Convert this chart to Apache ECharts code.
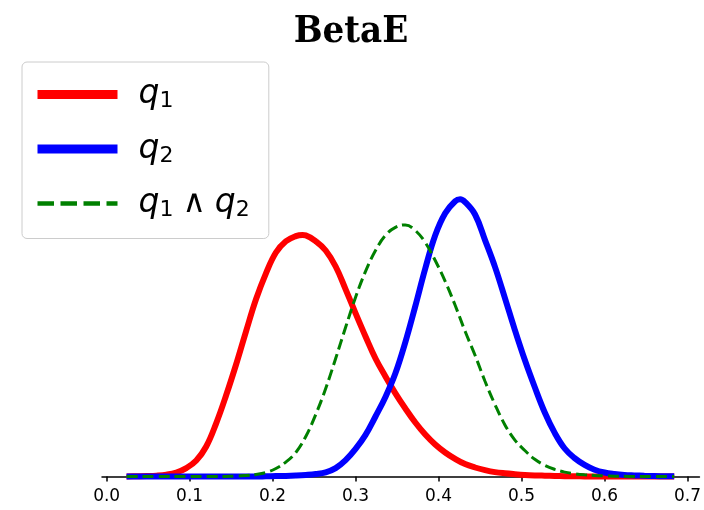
<!DOCTYPE html>
<html>
<head>
<meta charset="utf-8">
<style>
  html, body { margin: 0; padding: 0; background: #ffffff; }
  #chart { width: 704px; height: 510px; }
</style>
<script src="https://cdn.jsdelivr.net/npm/echarts@6/dist/echarts.min.js"></script>
</head>
<body>
<div id="chart"></div>
<script>
// ---- data ----
const xTickValues = [0.0, 0.1, 0.2, 0.3, 0.4, 0.5, 0.6, 0.7];

const q1X = [0.024,0.036,0.048,0.060,0.072,0.084,0.096,0.108,0.120,0.132,0.144,0.156,0.168,0.180,0.192,0.204,0.216,0.228,0.236,0.240,0.252,0.264,0.276,0.288,0.300,0.312,0.324,0.336,0.348,0.360,0.372,0.384,0.396,0.408,0.420,0.432,0.444,0.456,0.468,0.480,0.492,0.504,0.516,0.528,0.540,0.552,0.564,0.576,0.588,0.600,0.612,0.624,0.636,0.648,0.660,0.672,0.684];
const q1Y = [0,0.005,0.01,0.02,0.045,0.10,0.21,0.40,0.75,1.33,2.03,2.80,3.63,4.43,5.08,5.60,5.88,6.01,6.04,6.03,5.88,5.65,5.25,4.68,4.08,3.50,2.95,2.50,2.08,1.70,1.35,1.05,0.80,0.60,0.44,0.31,0.225,0.16,0.11,0.08,0.058,0.04,0.028,0.02,0.013,0.009,0.005,0.003,0.0015,0.001,0,0,0,0,0,0,0];

const q2X = [0.024,0.036,0.048,0.060,0.072,0.084,0.096,0.108,0.120,0.132,0.144,0.156,0.168,0.180,0.192,0.204,0.216,0.228,0.240,0.252,0.264,0.276,0.288,0.300,0.312,0.324,0.336,0.348,0.360,0.372,0.384,0.396,0.408,0.420,0.426,0.432,0.444,0.456,0.468,0.480,0.492,0.504,0.516,0.528,0.540,0.552,0.564,0.576,0.588,0.600,0.612,0.624,0.636,0.648,0.660,0.672,0.684];
const q2Y = [0,0,0,0,0,0,0,0,0,0,0,0,0,0,0.005,0.01,0.015,0.025,0.04,0.063,0.105,0.21,0.41,0.69,1.04,1.50,1.99,2.58,3.36,4.26,5.20,6.03,6.58,6.88,6.93,6.86,6.55,5.91,5.24,4.46,3.66,2.91,2.23,1.60,1.09,0.70,0.46,0.29,0.17,0.10,0.063,0.04,0.028,0.018,0.011,0.008,0.005];

const q12X = [0.024,0.036,0.048,0.060,0.072,0.084,0.096,0.108,0.120,0.132,0.144,0.156,0.168,0.180,0.192,0.204,0.216,0.228,0.240,0.252,0.264,0.276,0.288,0.300,0.312,0.324,0.336,0.348,0.360,0.372,0.384,0.396,0.408,0.420,0.432,0.444,0.456,0.468,0.480,0.492,0.504,0.516,0.528,0.540,0.552,0.564,0.576,0.588,0.600,0.612,0.624,0.636,0.648,0.660,0.672,0.684];
const q12Y = [0,0,0,0,0,0,0,0,0,0,0.0025,0.0075,0.025,0.05,0.10,0.20,0.36,0.60,1.00,1.55,2.20,2.95,3.73,4.48,5.13,5.65,6.03,6.23,6.29,6.15,5.85,5.40,4.88,4.28,3.63,3.03,2.38,1.80,1.29,0.91,0.65,0.43,0.28,0.18,0.11,0.07,0.043,0.025,0.015,0.008,0.004,0.001,0,0,0,0];

const legendLabels = {
  'q1': '{q|q}{s|1}',
  'q2': '{q|q}{s|2}',
  'q1q2': '{q|q}{s|1}{w|∧}{q|q}{s|2}'
};
const titleText = 'BetaE';

function pairs(xs, ys) { return xs.map((x, i) => [x, ys[i]]); }

const chart = echarts.init(document.getElementById('chart'), null, { renderer: 'canvas' });

const option = {
  animation: false,
  backgroundColor: '#ffffff',
  title: {
    text: titleText,
    left: 346,
    top: 8,
    textAlign: 'center',
    textStyle: {
      fontFamily: '"DejaVu Serif Condensed", "DejaVu Serif", serif',
      fontWeight: 'bold',
      fontSize: 38,
      color: '#000000'
    }
  },
  grid: { left: 102, right: 2, top: 62, bottom: 32, containLabel: false },
  legend: {
    orient: 'vertical',
    left: 22,
    top: 62,
    padding: [16, 19, 17, 11],
    itemWidth: 80,
    itemHeight: 10,
    itemGap: 20,
    backgroundColor: '#ffffff',
    borderColor: '#cccccc',
    borderWidth: 1,
    borderRadius: 5,
    selectedMode: false,
    itemStyle: { opacity: 0 },
    data: [
      { name: 'q1', itemStyle: { opacity: 0 }, lineStyle: { width: 9, color: '#ff0000' } },
      { name: 'q2', itemStyle: { opacity: 0 }, lineStyle: { width: 9, color: '#0000ff' } },
      { name: 'q1q2', itemStyle: { opacity: 0 }, lineStyle: { width: 4.5, color: '#008000', type: [16.5, 6.5] } }
    ],
    formatter: function (name) { return legendLabels[name]; },
    textStyle: {
      color: '#000000',
      fontFamily: 'DejaVu Sans',
      padding: [0, 0, 0, 16],
      rich: {
        q: { fontFamily: 'DejaVu Sans', fontStyle: 'italic', fontSize: 33, lineHeight: 36, color: '#000000' },
        s: { fontFamily: 'DejaVu Sans', fontSize: 22, lineHeight: 14, verticalAlign: 'bottom', color: '#000000' },
        w: { fontFamily: 'DejaVu Sans', fontSize: 32, lineHeight: 36, padding: [0, 9, 0, 9], color: '#000000' }
      }
    }
  },
  xAxis: {
    type: 'value',
    min: -0.0056,
    max: 0.7144,
    axisLine: { show: true, lineStyle: { color: '#000000', width: 1.5 } },
    axisTick: { show: true, customValues: xTickValues, length: 5, lineStyle: { color: '#000000', width: 1.5 } },
    axisLabel: {
      show: true,
      customValues: xTickValues,
      formatter: function (v) { return Number(v).toFixed(1); },
      fontFamily: 'DejaVu Sans',
      fontSize: 17,
      color: '#000000',
      margin: 10
    },
    splitLine: { show: false }
  },
  yAxis: {
    type: 'value',
    min: -0.0375,
    max: 10.3625,
    show: false,
    splitLine: { show: false }
  },
  series: [
    {
      name: 'q1', type: 'line', data: pairs(q1X, q1Y), showSymbol: false, symbol: 'none',
      smooth: 0.4, clip: false, z: 2,
      lineStyle: { color: '#ff0000', width: 6 }, itemStyle: { color: '#ff0000' }
    },
    {
      name: 'q2', type: 'line', data: pairs(q2X, q2Y), showSymbol: false, symbol: 'none',
      smooth: 0.4, clip: false, z: 3,
      lineStyle: { color: '#0000ff', width: 6 }, itemStyle: { color: '#0000ff' }
    },
    {
      name: 'q1q2', type: 'line', data: pairs(q12X, q12Y), showSymbol: false, symbol: 'none',
      smooth: 0.4, clip: false, z: 4,
      lineStyle: { color: '#008000', width: 3, type: [11, 5] }, itemStyle: { color: '#008000' }
    }
  ]
};

chart.setOption(option);
</script>
</body>
</html>
